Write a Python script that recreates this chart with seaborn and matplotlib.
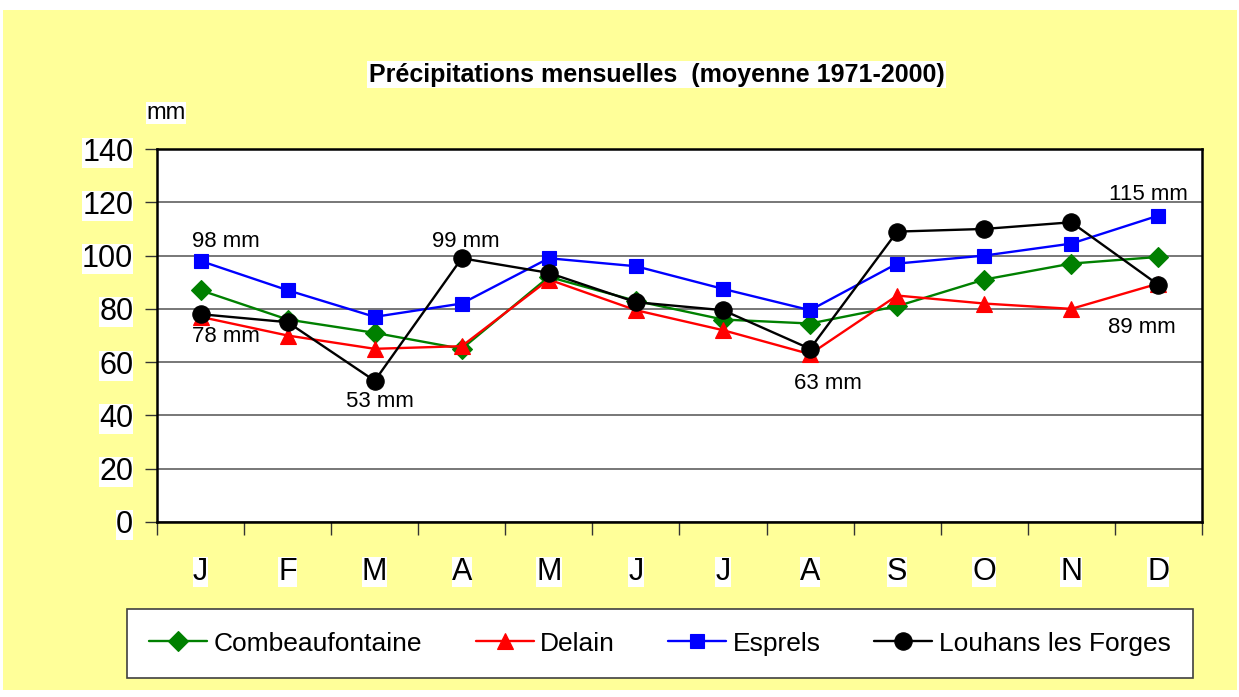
import numpy as np
import pandas as pd
import matplotlib
matplotlib.use("Agg")
import matplotlib.pyplot as plt
from matplotlib.patches import Rectangle
import seaborn as sns

months = ["J", "F", "M", "A", "M", "J", "J", "A", "S", "O", "N", "D"]
stations = ["Combeaufontaine", "Delain", "Esprels", "Louhans les Forges"]
combeaufontaine = [87, 76, 71, 65, 92, 83, 76, 74.5, 81, 91, 97, 99.5]
delain = [77, 70, 65, 66, 91, 79.5, 72, 63, 85, 82, 80, 89.5]
esprels = [98, 87, 77, 82, 99, 96, 87.5, 79.5, 97, 100, 104.5, 115]
louhans = [78, 75, 53, 99, 93.5, 82.5, 79.5, 65, 109, 110, 112.5, 89]

colors = {"Combeaufontaine": "#008000", "Delain": "#FF0000",
          "Esprels": "#0000FF", "Louhans les Forges": "#000000"}
markers = {"Combeaufontaine": "D", "Delain": "^",
           "Esprels": "s", "Louhans les Forges": "o"}
msizes = {"Combeaufontaine": 10, "Delain": 12, "Esprels": 10.5, "Louhans les Forges": 12.5}

df = pd.DataFrame({
    "pos": list(range(12)) * 4,
    "mm": combeaufontaine + delain + esprels + louhans,
    "station": np.repeat(stations, 12),
})

sns.set_style("white")
plt.rcParams["font.family"] = ["Liberation Sans", "DejaVu Sans"]
plt.rcParams["text.color"] = "black"
plt.rcParams["xtick.color"] = "black"
plt.rcParams["ytick.color"] = "black"
plt.rcParams["axes.labelcolor"] = "black"

fig = plt.figure(figsize=(12.39, 6.97), dpi=100)
fig.patch.set_facecolor("white")
fig.add_artist(Rectangle((3 / 1239, 7 / 697), 1234 / 1239, 680 / 697,
                         transform=fig.transFigure, facecolor="#FFFF99",
                         edgecolor="none", zorder=-10))

ax = fig.add_axes([0.1267, 0.2511, 0.8434, 0.5351])
ax.set_facecolor("white")

sns.lineplot(data=df, x="pos", y="mm", hue="station", style="station",
             hue_order=stations, style_order=stations, palette=colors,
             markers=markers, dashes=False, linewidth=1.7, legend=False,
             ax=ax, zorder=3)

for line, st in zip(ax.lines, stations):
    line.set_markeredgecolor(colors[st])
    line.set_markerfacecolor(colors[st])
    line.set_markersize(msizes[st])
    line.set_markeredgewidth(0.8)

ax.set_xlim(-0.5, 11.5)
ax.set_ylim(0, 140)
ax.set_yticks(range(0, 141, 20))
ax.set_xticks(np.arange(-0.5, 12, 1))
ax.set_xticklabels([])
ax.set_xticks(range(12), minor=True)
ax.set_xticklabels(months, minor=True)
ax.tick_params(axis="x", which="major", length=9, width=1, direction="out",
               bottom=True, color="#333333")
ax.tick_params(axis="x", which="minor", length=0, pad=25, labelsize=22)
ax.tick_params(axis="y", length=9, width=1, direction="out", left=True,
               pad=8, labelsize=22, color="#333333")
ax.grid(axis="y", color="#606060", linewidth=1.2)
ax.set_axisbelow(True)
ax.set_xlabel("")
ax.set_ylabel("")
for sp in ax.spines.values():
    sp.set_color("black")
    sp.set_linewidth(1.8)

for lab in ax.get_yticklabels() + ax.get_xticklabels(minor=True):
    lab.set_bbox(dict(facecolor="white", edgecolor="none", pad=0))

# valeurs remarquables
notes = [
    (0, esprels[0], (18, 14)),
    (0, louhans[0], (18, -16)),
    (2, louhans[2], (4, -15)),
    (3, louhans[3], (3, 12)),
    (7, delain[7], (13, -21)),
    (11, esprels[11], (-7, 15)),
    (11, louhans[11], (-12, -31)),
]
for x, v, off in notes:
    ax.annotate(f"{v:.0f} mm", (x, v), xytext=off, textcoords="offset points",
                ha="center", va="center", fontsize=16, zorder=5)

fig.text(0.530, 0.8924, "Précipitations mensuelles  (moyenne 1971-2000)",
         ha="center", va="center", fontsize=18, fontweight="bold",
         bbox=dict(facecolor="white", edgecolor="none", pad=1))
fig.text(0.134, 0.838, "mm", ha="center", va="center", fontsize=17,
         bbox=dict(facecolor="white", edgecolor="none", pad=0))

leg = fig.legend(ax.lines[:4], stations, loc="lower left",
                 bbox_to_anchor=(0.1025, 0.0273, 0.8604, 0.0961),
                 mode="expand", ncol=4, fontsize=19, frameon=True,
                 fancybox=False, handlelength=2.2, handletextpad=0.25,
                 borderaxespad=0, borderpad=0.85)
leg.get_frame().set_edgecolor("#404040")
leg.get_frame().set_linewidth(1.2)
leg.get_frame().set_facecolor("white")
leg.get_frame().set_alpha(1)

plt.savefig("out.png", dpi=100, facecolor="white")
plt.close()
